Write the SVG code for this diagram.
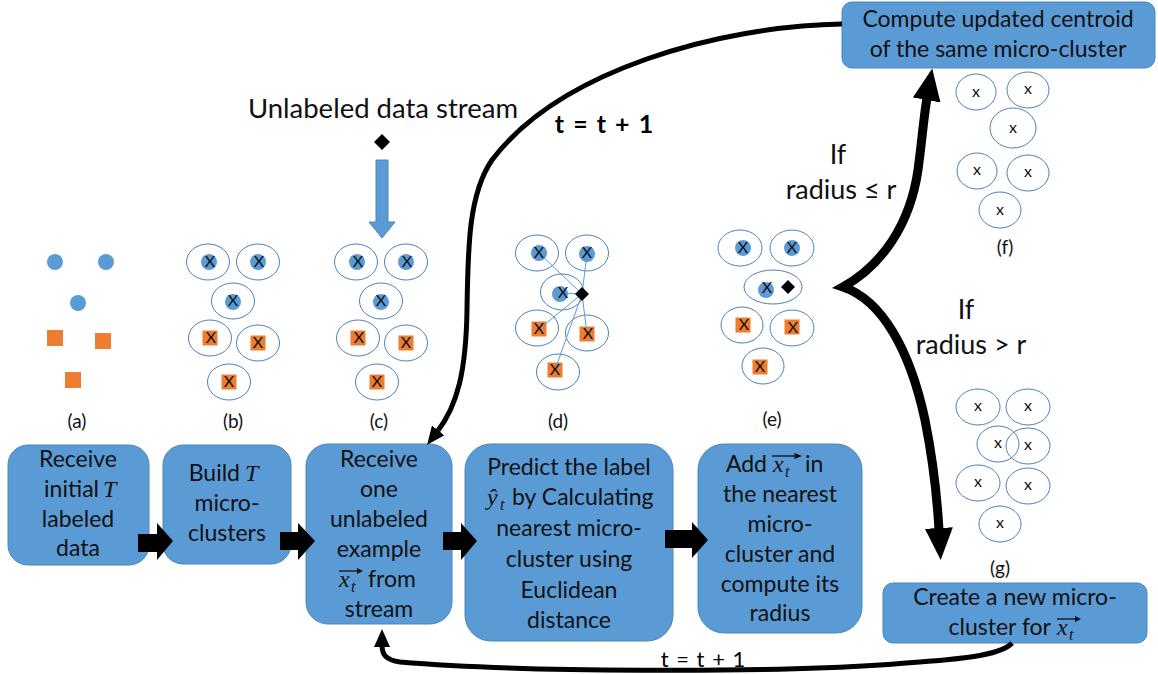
<svg xmlns="http://www.w3.org/2000/svg" xmlns:xlink="http://www.w3.org/1999/xlink" width="1158" height="674" viewBox="0 0 1158 674">
  <style>
    .box { fill: #5B9BD5; stroke: #4A84BC; stroke-width: 1; }
    .bt { font-family: Lato, "Open Sans", sans-serif; font-size: 23px; fill: #111; text-anchor: middle; }
    .be { text-anchor: end; }
    .bs { text-anchor: start; }
    .m { font-family: "Liberation Serif", serif; font-style: italic; font-size: 24px; fill: #111; }
    .sub { font-family: "Liberation Serif", serif; font-style: italic; font-size: 16px; fill: #111; }
    .el { fill: none; stroke: #4F7FB5; stroke-width: 1; }
    .bd { fill: #5B9BD5; }
    .sq { fill: #ED7D31; }
    .cx { font-family: Lato, "Open Sans", sans-serif; font-size: 16px; fill: #111; text-anchor: middle; }
    .lab { font-family: Lato, "Open Sans", sans-serif; font-size: 19px; fill: #111; text-anchor: middle; }
    .big { font-family: Lato, "Open Sans", sans-serif; font-size: 27.5px; fill: #111; text-anchor: middle; }
    .cond { font-family: Lato, "Open Sans", sans-serif; font-size: 27px; fill: #111; text-anchor: middle; }
    .tt { font-family: Lato, "Open Sans", sans-serif; fill: #000; text-anchor: middle; }
    .conn { fill: none; stroke: #000; stroke-linejoin: miter; }
    .blk { fill: #000; }
    .dl { stroke: #5B9BD5; stroke-width: 1; }
    .vec { fill: none; stroke: #111; stroke-width: 1.3; }
  </style>
  <defs>
    <marker id="hs" markerUnits="userSpaceOnUse" markerWidth="20" markerHeight="16" refX="2" refY="8" orient="auto">
      <path d="M0,0 L18,8 L0,16 Z" fill="#000"/>
    </marker>
    <marker id="hb" markerUnits="userSpaceOnUse" markerWidth="34" markerHeight="28" refX="2" refY="14" orient="auto-start-reverse">
      <path d="M0,0 L32,14 L0,28 Z" fill="#000"/>
    </marker>
    <!-- small vector arrow drawn over x_t -->
    <g id="vecarrow">
      <path class="vec" d="M0,0 H22"/>
      <path d="M18,-3 L24,0 L18,3 Z" fill="#111"/>
    </g>
    <!-- six labelled micro-clusters -->
    <g id="panel">
      <ellipse class="el" cx="0" cy="0" rx="21.5" ry="18"/>
      <ellipse class="el" cx="50" cy="0" rx="21.5" ry="18"/>
      <ellipse class="el" cx="25" cy="39" rx="21.5" ry="18"/>
      <ellipse class="el" cx="2" cy="76" rx="21.5" ry="18"/>
      <ellipse class="el" cx="50" cy="81" rx="21.5" ry="18"/>
      <ellipse class="el" cx="21" cy="120" rx="21.5" ry="18"/>
      <circle class="bd" cx="1" cy="0" r="8"/>
      <circle class="bd" cx="50" cy="0" r="8"/>
      <circle class="bd" cx="25" cy="40" r="8"/>
      <rect class="sq" x="-5.5" y="68.5" width="15" height="15"/>
      <rect class="sq" x="42.5" y="73.5" width="15" height="15"/>
      <rect class="sq" x="13.5" y="112.5" width="15" height="15"/>
      <text class="cx" x="2" y="5">X</text>
      <text class="cx" x="51" y="5">X</text>
      <text class="cx" x="25" y="44">X</text>
      <text class="cx" x="3" y="81">X</text>
      <text class="cx" x="50" y="86">X</text>
      <text class="cx" x="21" y="125">X</text>
    </g>
  </defs>

  <!-- (a) labelled points -->
  <g id="panel-a">
    <circle class="bd" cx="55" cy="262" r="8"/>
    <circle class="bd" cx="106" cy="262" r="8"/>
    <circle class="bd" cx="78" cy="303" r="8"/>
    <rect class="sq" x="47" y="330" width="16" height="16"/>
    <rect class="sq" x="95" y="333" width="16" height="16"/>
    <rect class="sq" x="65" y="372" width="16" height="16"/>
    <text class="lab" x="77" y="428">(a)</text>
  </g>

  <!-- (b) micro-clusters -->
  <g id="panel-b">
    <use xlink:href="#panel" href="#panel" x="208" y="262"/>
    <text class="lab" x="233" y="428">(b)</text>
  </g>

  <!-- (c) stream arrives -->
  <g id="panel-c">
    <text class="big" x="383" y="118">Unlabeled data stream</text>
    <path d="M382,134 L390,142 L382,150 L374,142 Z" fill="#000"/>
    <polygon points="376,160 388,160 388,222 395,222 382,238 369,222 376,222" fill="#5B9BD5" stroke="#4A84BC" stroke-width="1"/>
    <use xlink:href="#panel" href="#panel" x="356" y="262"/>
    <text class="lab" x="379" y="428">(c)</text>
  </g>

  <!-- (d) distances to the new point -->
  <g id="panel-d">
    <ellipse class="el" cx="537" cy="253" rx="21.5" ry="18"/>
    <ellipse class="el" cx="587" cy="253" rx="21.5" ry="18"/>
    <ellipse class="el" cx="562" cy="292" rx="21.5" ry="18"/>
    <ellipse class="el" cx="537" cy="328" rx="21.5" ry="18"/>
    <ellipse class="el" cx="587" cy="333" rx="21.5" ry="18"/>
    <ellipse class="el" cx="558" cy="372" rx="21.5" ry="18"/>
    <circle class="bd" cx="539" cy="253" r="8"/>
    <circle class="bd" cx="587" cy="254" r="8"/>
    <circle class="bd" cx="560" cy="294" r="8"/>
    <rect class="sq" x="531.5" y="321.5" width="15" height="15"/>
    <rect class="sq" x="579.5" y="326.5" width="15" height="15"/>
    <rect class="sq" x="547.5" y="362.5" width="15" height="15"/>
    <line class="dl" x1="539" y1="253" x2="582" y2="294"/>
    <line class="dl" x1="587" y1="254" x2="582" y2="294"/>
    <line class="dl" x1="562" y1="293" x2="582" y2="294"/>
    <line class="dl" x1="539" y1="329" x2="582" y2="294"/>
    <line class="dl" x1="587" y1="334" x2="582" y2="294"/>
    <line class="dl" x1="555" y1="370" x2="582" y2="294"/>
    <path d="M582,287 L589,294 L582,301 L575,294 Z" fill="#000"/>
    <text class="cx" x="539" y="258">X</text>
    <text class="cx" x="587" y="258">X</text>
    <text class="cx" x="563" y="298">X</text>
    <text class="cx" x="539" y="334">X</text>
    <text class="cx" x="588" y="339">X</text>
    <text class="cx" x="555" y="375">X</text>
    <text class="lab" x="558" y="428">(d)</text>
  </g>

  <!-- (e) point added to nearest micro-cluster -->
  <g id="panel-e">
    <ellipse class="el" cx="740" cy="248" rx="22" ry="18"/>
    <ellipse class="el" cx="792" cy="248" rx="22" ry="18"/>
    <ellipse class="el" cx="773" cy="287" rx="29" ry="17"/>
    <ellipse class="el" cx="742" cy="325" rx="21" ry="18"/>
    <ellipse class="el" cx="792" cy="328" rx="22" ry="18"/>
    <ellipse class="el" cx="763" cy="366" rx="21" ry="18"/>
    <circle class="bd" cx="743" cy="248" r="8"/>
    <circle class="bd" cx="792" cy="248" r="8"/>
    <circle class="bd" cx="766" cy="290" r="8"/>
    <rect class="sq" x="735.5" y="317.5" width="15" height="15"/>
    <rect class="sq" x="784.5" y="319.5" width="15" height="15"/>
    <rect class="sq" x="752.5" y="359.5" width="15" height="15"/>
    <path d="M788,280 L795,287 L788,294 L781,287 Z" fill="#000"/>
    <text class="cx" x="743" y="253">X</text>
    <text class="cx" x="792" y="253">X</text>
    <text class="cx" x="767" y="293">X</text>
    <text class="cx" x="744" y="330">X</text>
    <text class="cx" x="793" y="333">X</text>
    <text class="cx" x="760" y="372">X</text>
    <text class="lab" x="772" y="426">(e)</text>
  </g>

  <!-- (f) same micro-clusters after update -->
  <g id="panel-f">
    <ellipse class="el" cx="976" cy="92" rx="20" ry="18"/>
    <ellipse class="el" cx="1028" cy="90" rx="21" ry="18"/>
    <ellipse class="el" cx="1013" cy="128" rx="23" ry="20"/>
    <ellipse class="el" cx="977" cy="171" rx="20" ry="18"/>
    <ellipse class="el" cx="1028" cy="173" rx="21" ry="18"/>
    <ellipse class="el" cx="1000" cy="210" rx="21" ry="18"/>
    <text class="cx" x="976" y="97">x</text>
    <text class="cx" x="1028" y="94">x</text>
    <text class="cx" x="1013" y="133">x</text>
    <text class="cx" x="977" y="175">x</text>
    <text class="cx" x="1028" y="177">x</text>
    <text class="cx" x="1000" y="215">x</text>
    <text class="lab" x="1005" y="254">(f)</text>
  </g>

  <!-- (g) new micro-cluster created -->
  <g id="panel-g">
    <ellipse class="el" cx="978" cy="407" rx="22" ry="18"/>
    <ellipse class="el" cx="1028" cy="407" rx="22" ry="18"/>
    <ellipse class="el" cx="998" cy="444" rx="21" ry="18"/>
    <ellipse class="el" cx="1028" cy="446" rx="22" ry="18"/>
    <ellipse class="el" cx="978" cy="483" rx="22" ry="18"/>
    <ellipse class="el" cx="1028" cy="486" rx="22" ry="18"/>
    <ellipse class="el" cx="1000" cy="524" rx="21" ry="18"/>
    <text class="cx" x="978" y="411">x</text>
    <text class="cx" x="1028" y="411">x</text>
    <text class="cx" x="998" y="448">x</text>
    <text class="cx" x="1028" y="450">x</text>
    <text class="cx" x="978" y="487">x</text>
    <text class="cx" x="1028" y="490">x</text>
    <text class="cx" x="1000" y="528">x</text>
    <text class="lab" x="1000" y="575">(g)</text>
  </g>

  <!-- process steps -->
  <g id="step-receive-initial">
    <rect class="box" x="8" y="445" width="141" height="120" rx="20"/>
    <text class="bt" x="78" y="467">Receive</text>
    <text class="bt be" x="99" y="497">initial</text>
    <text class="m" x="103" y="497">T</text>
    <text class="bt" x="78" y="527">labeled</text>
    <text class="bt" x="78" y="556">data</text>
  </g>
  <g id="step-build">
    <rect class="box" x="163" y="445" width="128" height="119" rx="20"/>
    <text class="bt be" x="240" y="481">Build</text>
    <text class="m" x="245" y="481">T</text>
    <text class="bt" x="227" y="511">micro-</text>
    <text class="bt" x="227" y="541">clusters</text>
  </g>
  <g id="step-receive-one">
    <rect class="box" x="306" y="444" width="146" height="180" rx="22"/>
    <text class="bt" x="379" y="467">Receive</text>
    <text class="bt" x="379" y="497">one</text>
    <text class="bt" x="379" y="527">unlabeled</text>
    <text class="bt" x="379" y="557">example</text>
    <text class="m" x="339" y="587">x</text>
    <text class="sub" x="351" y="592">t</text>
    <text class="bt bs" x="368" y="587">from</text>
    <use xlink:href="#vecarrow" href="#vecarrow" x="339" y="571"/>
    <text class="bt" x="379" y="617">stream</text>
  </g>
  <g id="step-predict">
    <rect class="box" x="465" y="444" width="208" height="197" rx="26"/>
    <text class="bt" x="569" y="475">Predict the label</text>
    <text class="m" x="487" y="505">ŷ</text>
    <text class="sub" x="500" y="510">t</text>
    <text class="bt bs" x="512" y="505">by Calculating</text>
    <text class="bt" x="569" y="536">nearest micro-</text>
    <text class="bt" x="569" y="567">cluster using</text>
    <text class="bt" x="569" y="598">Euclidean</text>
    <text class="bt" x="569" y="628">distance</text>
  </g>
  <g id="step-add">
    <rect class="box" x="698" y="444" width="164" height="189" rx="26"/>
    <text class="bt be" x="767" y="472">Add</text>
    <text class="m" x="773" y="472">x</text>
    <text class="sub" x="785" y="477">t</text>
    <text class="bt bs" x="805" y="472">in</text>
    <use xlink:href="#vecarrow" href="#vecarrow" transform="translate(772,456) scale(1.25,1)"/>
    <text class="bt" x="780" y="502">the nearest</text>
    <text class="bt" x="780" y="532">micro-</text>
    <text class="bt" x="780" y="562">cluster and</text>
    <text class="bt" x="780" y="592">compute its</text>
    <text class="bt" x="780" y="621">radius</text>
  </g>
  <g id="step-update">
    <rect class="box" x="842" y="2" width="313" height="66" rx="10"/>
    <text class="bt" x="998" y="27">Compute updated centroid</text>
    <text class="bt" x="998" y="57">of the same micro-cluster</text>
  </g>
  <g id="step-create">
    <rect class="box" x="883" y="583" width="264" height="60" rx="10"/>
    <text class="bt" x="1015" y="605">Create a new micro-</text>
    <text class="bt be" x="1051" y="635">cluster for</text>
    <text class="m" x="1057" y="635">x</text>
    <text class="sub" x="1069" y="640">t</text>
    <use xlink:href="#vecarrow" href="#vecarrow" x="1057" y="619"/>
  </g>

  <!-- connectors -->
  <g id="connectors">
    <polygon class="blk" points="138,534 157,534 157,523 173,541 157,560 157,552 138,552"/>
    <polygon class="blk" points="280,532 298,532 298,523 315,541 298,560 298,550 280,550"/>
    <polygon class="blk" points="443,532 461,532 461,523 477,541 461,560 461,550 443,550"/>
    <polygon class="blk" points="665,530 692,530 692,522 708,540 692,558 692,548 665,548"/>

    <path class="conn" stroke-width="5" marker-end="url(#hs)" d="M842,24 C720,26 560,70 492,160 C468,195 468,250 467,310 C466,370 458,405 437,432"/>
    <text class="tt" x="604" y="133" font-size="25" font-weight="bold" word-spacing="3">t = t + 1</text>

    <path class="conn" stroke-width="5" marker-end="url(#hs)" d="M1012,643 C1000,657 950,660 880,665 C760,673 520,672 400,662 C386,660 382,655 382,645"/>
    <text class="tt" x="703" y="667" font-size="22" word-spacing="2">t = t + 1</text>

    <path class="conn" stroke-width="9" marker-start="url(#hb)" marker-end="url(#hb)" d="M927,98 C924,115 922,140 918,170 C910,225 882,265 843,287 C882,300 910,350 925,420 C933,460 937,495 939,530"/>

    <text class="cond" x="838" y="164">If</text>
    <text class="cond" x="841" y="199">radius ≤ r</text>
    <text class="cond" x="966" y="319">If</text>
    <text class="cond" x="971" y="354">radius &gt; r</text>
  </g>
</svg>
